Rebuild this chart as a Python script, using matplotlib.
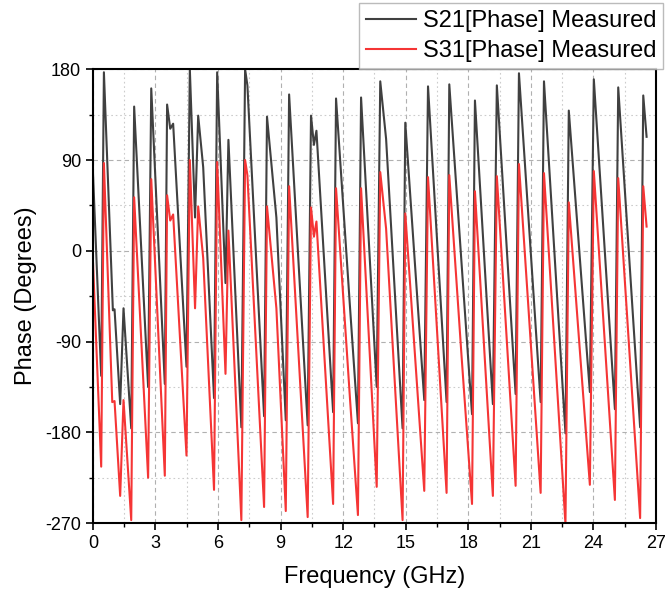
import matplotlib
matplotlib.use("Agg")
import matplotlib.pyplot as plt
from matplotlib.ticker import MultipleLocator

plt.rcParams['font.family'] = ['Liberation Sans', 'DejaVu Sans']
plt.rcParams['axes.unicode_minus'] = False

# S21 phase (GHz, degrees)
s21_freq = [0.00, 0.40, 0.53, 0.96, 1.04, 1.31, 1.47, 1.84, 1.98, 2.65, 2.80, 3.45,
            3.56, 3.71, 3.85, 4.49, 4.65, 4.90, 5.05, 5.29, 5.81, 5.96, 6.36, 6.50,
            7.12, 7.30, 7.41, 8.21, 8.35, 8.80, 9.25, 9.41, 10.30, 10.46, 10.60, 10.72,
            11.52, 11.66, 12.33, 12.71, 12.86, 13.61, 13.78, 14.06, 14.85, 14.98, 15.89,
            16.07, 16.96, 17.09, 17.67, 18.18, 18.32, 19.18, 19.37, 20.27, 20.43, 21.47,
            21.63, 22.66, 22.82, 23.83, 24.02, 25.03, 25.19, 26.24, 26.39, 26.55]
s21_phase = [80, -124, 177, -59, -58, -152, -57, -176, 143, -135, 161, -132,
             145, 121, 126, -115, 180, 33, 134, 83, -146, 177, -32, 110,
             -175, 180, 164, -164, 133, 33, -168, 155, -173, 134, 105, 119,
             -160, 151, -56, -171, 152, -135, 168, 111, -176, 127, -148,
             163, -150, 165, -10, -162, 149, -152, 164, -142, 176, -150,
             168, -181, 139, -140, 170, -157, 162, -175, 154, 113]

# S31 phase (GHz, degrees)
s31_freq = [0.00, 0.40, 0.53, 0.93, 1.04, 1.31, 1.47, 1.84, 1.98, 2.65, 2.80, 3.45,
            3.56, 3.71, 3.85, 4.49, 4.65, 4.90, 5.05, 5.29, 5.81, 5.96, 6.36, 6.50,
            7.12, 7.30, 7.41, 8.21, 8.35, 8.80, 9.25, 9.41, 10.30, 10.46, 10.60, 10.72,
            11.52, 11.66, 12.33, 12.71, 12.86, 13.61, 13.78, 14.06, 14.85, 14.98, 15.89,
            16.07, 16.96, 17.09, 17.67, 18.18, 18.32, 19.18, 19.37, 20.27, 20.43, 21.47,
            21.63, 22.66, 22.82, 23.83, 24.02, 25.03, 25.19, 26.24, 26.39, 26.55]
s31_phase = [-8, -214, 87, -150, -149, -243, -148, -267, 53, -225, 71, -223,
             55, 30, 36, -203, 90, -57, 44, -7, -237, 88, -122, 20,
             -267, 90, 75, -254, 44, -57, -258, 64, -264, 43, 14, 29,
             -251, 62, -147, -262, 62, -234, 78, 22, -267, 37, -238,
             73, -240, 75, -102, -251, 59, -243, 74, -233, 86, -240,
             77, -271, 48, -232, 79, -247, 72, -265, 64, 24]

fig = plt.figure(figsize=(6.68, 6.02), dpi=100)
ax = fig.add_axes([0.139, 0.131, 0.843, 0.754])

ax.plot(s21_freq, s21_phase, color="#404040", lw=1.5, label="S21[Phase] Measured")
ax.plot(s31_freq, s31_phase, color="#f53535", lw=1.5, label="S31[Phase] Measured")

ax.set_xlim(0, 27)
ax.set_ylim(-270, 180)
ax.xaxis.set_major_locator(MultipleLocator(3))
ax.xaxis.set_minor_locator(MultipleLocator(1.5))
ax.yaxis.set_major_locator(MultipleLocator(90))
ax.yaxis.set_minor_locator(MultipleLocator(45))

ax.grid(True, which="major", color="#b0b0b0", linestyle=(0, (4, 3)), lw=0.8)
ax.grid(True, which="minor", color="#cccccc", linestyle=(0, (1.5, 2.5)), lw=0.8)

ax.tick_params(which="major", direction="out", length=5, width=1.2, labelsize=13)
ax.tick_params(which="minor", direction="out", length=3, width=1.0)
for s in ax.spines.values():
    s.set_linewidth(1.5)

ax.set_xlabel("Frequency (GHz)", fontsize=17, labelpad=10)
ax.set_ylabel("Phase (Degrees)", fontsize=17, labelpad=6)

fig.legend(loc="upper right", bbox_to_anchor=(0.993, 0.995), fontsize=17,
           frameon=True, fancybox=False, edgecolor="#aaaaaa", handlelength=2.1,
           borderpad=0.3, labelspacing=0.35, handletextpad=0.3, borderaxespad=0)

fig.savefig("out.png", dpi=100)
